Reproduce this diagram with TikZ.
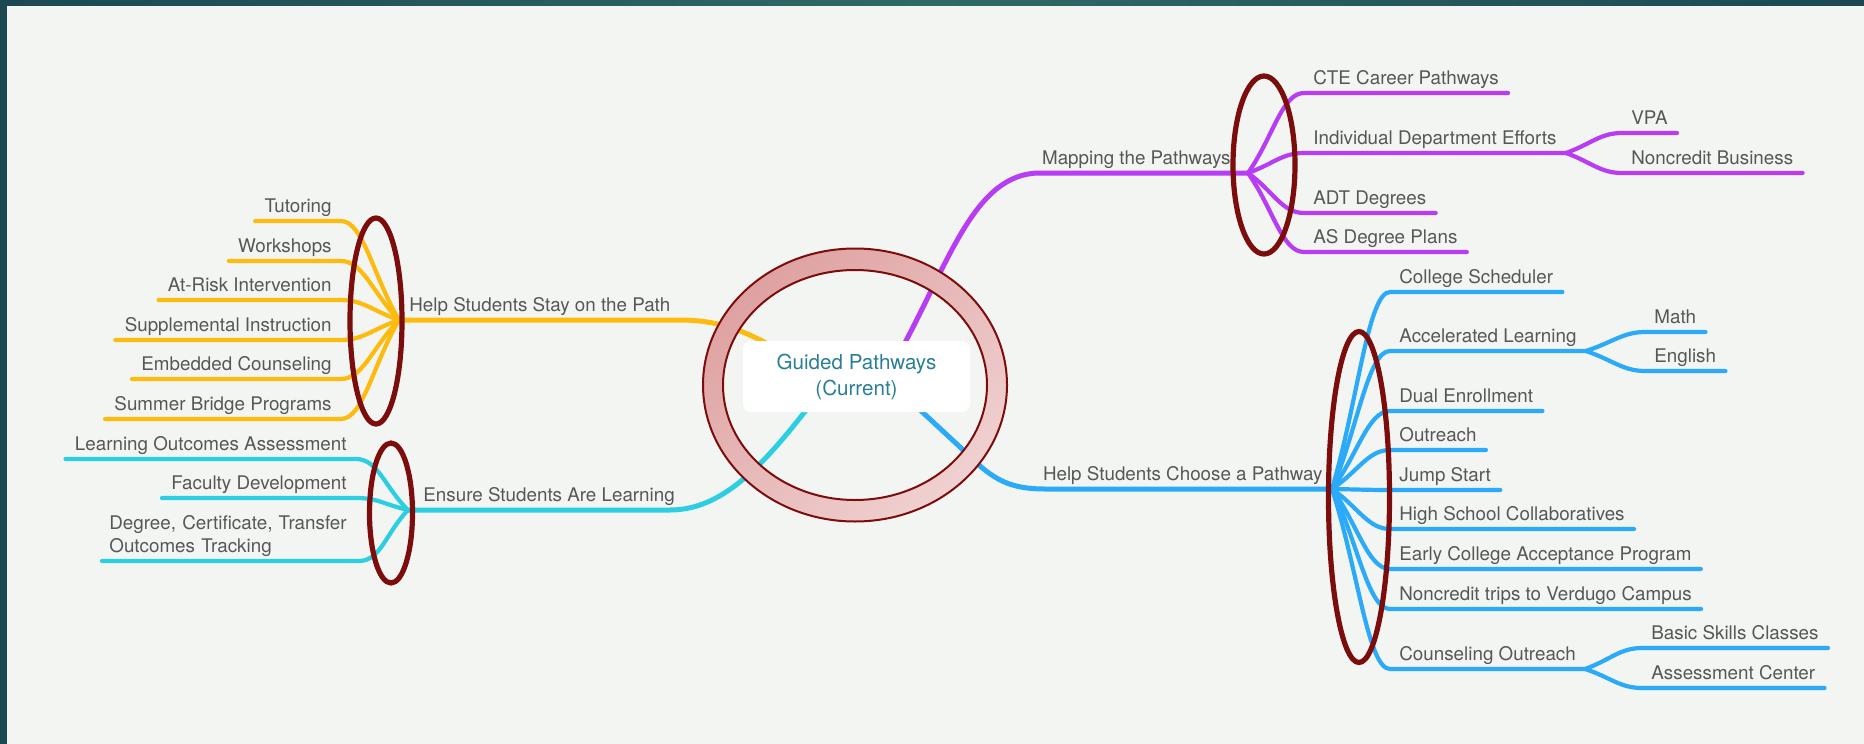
\documentclass[tikz,border=0pt]{standalone}
\usepackage{fontspec}
\setmainfont{TeX Gyre Heros}
\usetikzlibrary{calc,shadings}
\definecolor{bgc}{HTML}{F3F5F2}
\definecolor{frameA}{HTML}{1B4853}
\definecolor{frameB}{HTML}{2F6B66}
\definecolor{txt}{HTML}{575757}
\definecolor{ctxt}{HTML}{2A7E98}
\definecolor{yel}{HTML}{FDBB10}
\definecolor{cya}{HTML}{2CCFE1}
\definecolor{pur}{HTML}{B83CF3}
\definecolor{blu}{HTML}{2AAAF9}
\definecolor{dred}{HTML}{7C0D0D}
\definecolor{ringA}{HTML}{DB9797}
\definecolor{ringB}{HTML}{F3DADA}
\definecolor{ringM}{HTML}{E8BABA}
\pgfdeclarelayer{bglayer}
\pgfdeclarelayer{lines}
\pgfdeclarelayer{ringlayer}
\pgfsetlayers{bglayer,lines,ringlayer,main}
\newcommand{\kidR}[3]{\draw[#1] (#2) .. controls ($(#2)!0.45!(#3.south west)$) and ($(#3.south west)+(-22,0)$) .. (#3.south west) -- (#3.south east);}
\newcommand{\kidL}[3]{\draw[#1] (#2) .. controls ($(#2)!0.45!(#3.south east)$) and ($(#3.south east)+(22,0)$) .. (#3.south east) -- (#3.south west);}
\begin{document}
\begin{tikzpicture}[x=0.5pt,y=-0.5pt,
  kid/.style={font=\fontsize{9.4pt}{11.5pt}\selectfont, text=txt, inner xsep=4.5pt, inner ysep=4pt, text depth=0pt, text height=7pt},
  kidL/.style={kid, anchor=south east},
  kidR/.style={kid, anchor=south west},
  br/.style={line width=2.1pt, line cap=round},
  mainbr/.style={line width=2.5pt, line cap=round},
  oval/.style={draw=dred, line width=2.6pt}]
\useasboundingbox (0,0) rectangle (1864,744);
\begin{pgfonlayer}{bglayer}
\fill[bgc] (0,0) rectangle (1864,744);
\end{pgfonlayer}

% centre
\node[fill=white, rounded corners=4pt, minimum width=113.5pt, minimum height=35.5pt, inner sep=0pt,
  text=ctxt, align=center, font=\fontsize{10.3pt}{13pt}\selectfont] (c) at (856.5,376.5) {Guided Pathways\\(Current)};

% hubs
\coordinate (hy) at (399,320);
\coordinate (hc) at (408,510);
\coordinate (hp) at (1248,173);
\coordinate (hb) at (1332,489);

% main labels
\node[kid, anchor=south west, inner xsep=0pt] (ly) at (409,320) {Help Students Stay on the Path};
\node[kid, anchor=south west, inner xsep=0pt] (lc) at (423,510) {Ensure Students Are Learning};
\node[kid, anchor=south east, inner xsep=0pt] (lp) at (1231,173) {Mapping the Pathways};
\node[kid, anchor=south east, inner xsep=0pt] (lb) at (1323,489) {Help Students Choose a Pathway};

% yellow children
\node[kidL] (y1) at (341,221) {Tutoring};
\node[kidL] (y2) at (341,261) {Workshops};
\node[kidL] (y3) at (341,300) {At-Risk Intervention};
\node[kidL] (y4) at (341,340) {Supplemental Instruction};
\node[kidL] (y5) at (341,379) {Embedded Counseling};
\node[kidL] (y6) at (341,419) {Summer Bridge Programs};

% cyan children
\node[kidL] (c1) at (356,459) {Learning Outcomes Assessment};
\node[kidL] (c2) at (356,498) {Faculty Development};
\node[kid, anchor=south west, inner xsep=3.5pt, text width=121pt, align=left, text depth=11.5pt] (c3) at (102,561) {Degree, Certificate, Transfer\\Outcomes Tracking};

% purple children
\node[kidR] (p1) at (1304,93) {CTE Career Pathways};
\node[kidR] (p2) at (1304,153) {Individual Department Efforts};
\node[kidR] (p3) at (1304,213) {ADT Degrees};
\node[kidR] (p4) at (1304,252) {AS Degree Plans};
\node[kidR] (p5) at (1622,133) {VPA};
\node[kidR] (p6) at (1622,173) {Noncredit Business};

% blue children
\node[kidR] (b1) at (1390,292) {College Scheduler};
\node[kidR] (b2) at (1390,351) {Accelerated Learning};
\node[kidR] (b3) at (1390,411) {Dual Enrollment};
\node[kidR] (b4) at (1390,450) {Outreach};
\node[kidR] (b5) at (1390,490) {Jump Start};
\node[kidR] (b6) at (1390,529) {High School Collaboratives};
\node[kidR] (b7) at (1390,569) {Early College Acceptance Program};
\node[kidR] (b8) at (1390,609) {Noncredit trips to Verdugo Campus};
\node[kidR] (b9) at (1390,669) {Counseling Outreach};
\node[kidR] (b10) at (1645,332) {Math};
\node[kidR] (b11) at (1645,371) {English};
\node[kidR] (b12) at (1642,648) {Basic Skills Classes};
\node[kidR] (b13) at (1642,688) {Assessment Center};

\begin{pgfonlayer}{lines}
% main branches
\draw[mainbr, yel] (c.center) -- (770,345) .. controls (745,332) and (720,320) .. (680,320) -- (hy);
\draw[mainbr, cya] (c.center) -- (810,405) .. controls (760,470) and (720,510) .. (670,510) -- (hc);
\draw[mainbr, pur] (c.center) -- (900,352) .. controls (950,260) and (975,173) .. (1040,173) -- (hp);
\draw[mainbr, blu] (c.center) -- (905,396) -- (960,447) .. controls (990,477) and (1005,489) .. (1045,489) -- (hb);
% yellow
\foreach \k in {y1,y2,y3,y4,y5,y6}{\kidL{br,yel}{hy}{\k}}
% cyan
\foreach \k in {c1,c2,c3}{\kidL{br,cya}{hc}{\k}}
% purple
\foreach \k in {p1,p2,p3,p4}{\kidR{br,pur}{hp}{\k}}
\kidR{br,pur}{p2.south east}{p5}
\kidR{br,pur}{p2.south east}{p6}
% blue
\foreach \k in {b1,b2,b3,b4,b5,b6,b7,b8,b9}{\kidR{br,blu}{hb}{\k}}
\kidR{br,blu}{b2.south east}{b10}
\kidR{br,blu}{b2.south east}{b11}
\kidR{br,blu}{b9.south east}{b12}
\kidR{br,blu}{b9.south east}{b13}
\end{pgfonlayer}

\begin{pgfonlayer}{ringlayer}
\shade[even odd rule, upper left=ringA, lower right=ringB, upper right=ringM, lower left=ringM]
  (855,385) ellipse [x radius=152, y radius=136.5] (855,385) ellipse [x radius=132, y radius=115];
\draw[dred, line width=1pt] (855,385) ellipse [x radius=152, y radius=136.5];
\draw[dred, line width=1pt] (855,385) ellipse [x radius=132, y radius=115];
\end{pgfonlayer}

% highlight ovals
\draw[oval] (376,321) ellipse [x radius=26, y radius=103];
\draw[oval] (391,513) ellipse [x radius=21.5, y radius=70];
\draw[oval] (1264,165) ellipse [x radius=31, y radius=89];
\draw[oval] (1359,497) ellipse [x radius=30.5, y radius=165.5];

% frame
\shade[left color=frameA, right color=frameA, middle color=frameB] (0,0) rectangle (1864,5);
\fill[frameA] (0,0) rectangle (7,744);
\end{tikzpicture}
\end{document}
